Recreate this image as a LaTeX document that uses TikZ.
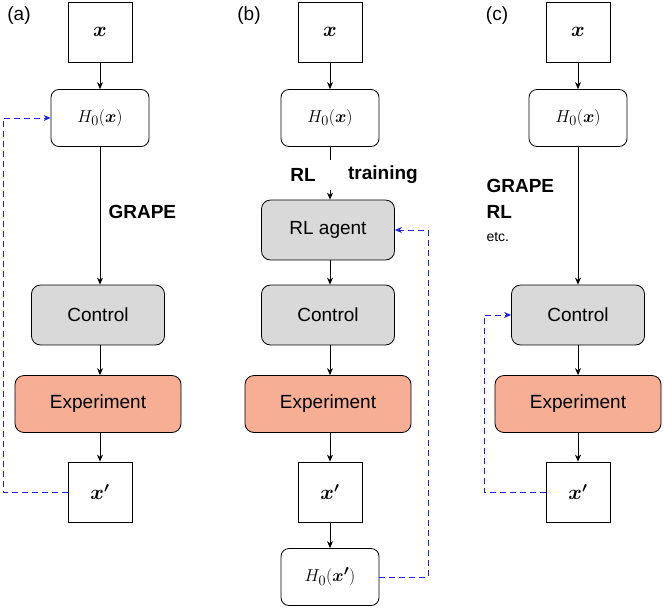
\documentclass[tikz,border=0pt]{standalone}
\usepackage{fontspec}
\usepackage{amsmath}
\setmainfont{Liberation Sans}
\usetikzlibrary{arrows.meta}
\begin{document}
\begin{tikzpicture}[x=1pt,y=-1pt,
  sq/.style={draw,line width=0.8pt,minimum width=64pt,minimum height=60pt,inner sep=0,font=\fontsize{20}{20}\selectfont},
  ham/.style={draw,line width=0.8pt,rounded corners=8pt,minimum width=98pt,minimum height=57pt,inner sep=0,font=\fontsize{19}{19}\selectfont},
  gray/.style={draw,line width=0.8pt,rounded corners=9pt,fill=black!15,minimum width=133pt,minimum height=60pt,inner sep=0,font=\fontsize{19}{19}\selectfont},
  exp/.style={draw,line width=0.8pt,rounded corners=9pt,fill={rgb,255:red,246;green,174;blue,148},minimum width=166pt,minimum height=57pt,inner sep=0,font=\fontsize{19}{19}\selectfont},
  ar/.style={-{Stealth[length=7pt,width=6pt]},line width=0.9pt},
  fb/.style={-{Stealth[length=7pt,width=6pt]},draw={rgb,255:red,30;green,30;blue,230},dashed,dash pattern=on 6pt off 4pt,line width=1pt},
  lab/.style={font=\fontsize{19}{19}\selectfont\bfseries},
  pan/.style={font=\fontsize{19}{19}\selectfont}]
\useasboundingbox (0,0) rectangle (664,611);
% (a)
\node[pan] (pa) at (19,16) {(a)};
\node[sq] (ax) at (100,32) {$\boldsymbol{x}$};
\node[ham] (ah) at (100,118) {$H_0(\boldsymbol{x})$};
\node[gray] (ac) at (98,315) {Control};
\node[exp] (ae) at (98,404) {Experiment};
\node[sq] (axp) at (100,492) {$\boldsymbol{x'}$};
\node[lab,anchor=west] (ag) at (105,212) {GRAPE};
\draw[ar] (ax) -- (ah);
\draw[ar] (ah) -- (ah|-ac.north);
\draw[ar] (ac.south-|axp) -- (ae.north-|axp);
\draw[ar] (ae.south-|axp) -- (axp);
\coordinate (a1) at (3,492); \coordinate (a2) at (3,118);
\draw[fb] (axp.west) -- (a1) -- (a2) -- (ah.west);
% (b)
\node[pan] (pb) at (249,16) {(b)};
\node[sq] (bx) at (330,32) {$\boldsymbol{x}$};
\node[ham] (bh) at (330,118) {$H_0(\boldsymbol{x})$};
\node[lab] (brl) at (303,175) {RL};
\node[lab] (btr) at (383,175) {training};
\node[gray] (ba) at (328,230) {RL agent};
\node[gray] (bc) at (328,315) {Control};
\node[exp] (be) at (328,404) {Experiment};
\node[sq] (bxp) at (330,492) {$\boldsymbol{x'}$};
\node[ham] (bhp) at (330,577) {$H_0(\boldsymbol{x'})$};
\draw[ar] (bx) -- (bh);
\draw[line width=0.9pt] (bh) -- (330,160);
\draw[ar] (330,190) -- (ba.north-|bh);
\draw[ar] (ba.south-|bh) -- (bc.north-|bh);
\draw[ar] (bc.south-|bh) -- (be.north-|bh);
\draw[ar] (be.south-|bh) -- (bxp);
\draw[ar] (bxp) -- (bhp);
\coordinate (b1) at (428,577); \coordinate (b2) at (428,230);
\draw[fb] (bhp.east) -- (b1) -- (b2) -- (ba.east);
% (c)
\node[pan] (pc) at (497,16) {(c)};
\node[sq] (cx) at (578,32) {$\boldsymbol{x}$};
\node[ham] (ch) at (578,118) {$H_0(\boldsymbol{x})$};
\node[lab,anchor=west] (cg) at (483,186) {GRAPE};
\node[lab,anchor=west] (cr) at (483,212) {RL};
\node[pan,anchor=west,font=\fontsize{14}{14}\selectfont] (ce) at (483,237) {etc.};
\node[gray] (cc) at (578,315) {Control};
\node[exp] (cexp) at (578,404) {Experiment};
\node[sq] (cxp) at (578,492) {$\boldsymbol{x'}$};
\draw[ar] (cx) -- (ch);
\draw[ar] (ch) -- (cc);
\draw[ar] (cc) -- (cexp);
\draw[ar] (cexp) -- (cxp);
\coordinate (c1) at (484,492); \coordinate (c2) at (484,315);
\draw[fb] (cxp.west) -- (c1) -- (c2) -- (cc.west);
\end{tikzpicture}
\end{document}
